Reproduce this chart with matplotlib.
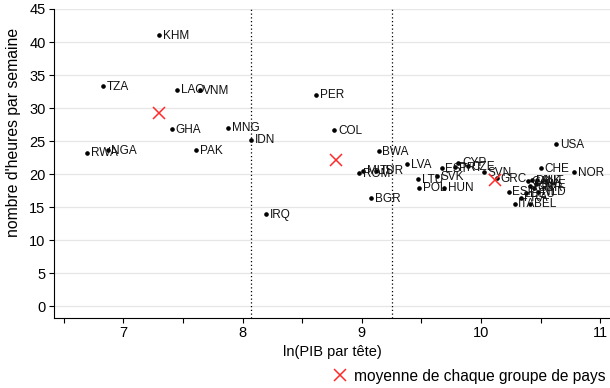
import matplotlib
matplotlib.use("Agg")
import matplotlib.pyplot as plt
from matplotlib.lines import Line2D

plt.rcParams["font.family"] = ["Liberation Sans", "DejaVu Sans"]

# country points: ln(GDP per head) vs weekly hours
countries = ["KHM", "TZA", "LAO", "VNM", "GHA", "MNG", "IDN", "PAK", "RWA", "NGA",
             "PER", "COL", "IRQ", "BWA", "MUS", "TUR", "ROM", "BGR", "LVA", "LTU",
             "POL", "SVK", "HUN", "EST", "CYP", "PRT", "CZE", "SVN", "GRC", "USA",
             "CHE", "NOR", "ESP", "ITA", "BEL", "FRA", "DEU", "NLD", "GBR", "FIN",
             "SWE", "AUT", "DNK", "CAN"]
log_gdp = [7.30, 6.83, 7.45, 7.64, 7.41, 7.88, 8.07, 7.61, 6.70, 6.87,
           8.62, 8.77, 8.20, 9.14, 9.01, 9.12, 8.98, 9.08, 9.38, 9.47,
           9.48, 9.63, 9.69, 9.67, 9.81, 9.78, 9.89, 10.02, 10.13, 10.63,
           10.50, 10.78, 10.23, 10.28, 10.41, 10.33, 10.38, 10.48, 10.44, 10.41,
           10.46, 10.47, 10.43, 10.39]
hours = [41.0, 33.3, 32.8, 32.7, 26.8, 27.0, 25.2, 23.6, 23.2, 23.6,
         32.0, 26.6, 13.9, 23.5, 20.5, 20.5, 20.1, 16.3, 21.5, 19.2,
         17.9, 19.7, 17.9, 20.9, 21.7, 21.0, 21.2, 20.3, 19.4, 24.5,
         20.9, 20.3, 17.3, 15.5, 15.5, 16.4, 17.1, 17.3, 17.9, 18.2,
         18.5, 19.1, 19.1, 18.9]

# group means (red crosses)
mean_gdp = [7.30, 8.78, 10.12]
mean_hours = [29.3, 22.1, 19.1]

# group thresholds
cuts = [8.07, 9.25]

RED = "#ff2a2a"

fig = plt.figure(figsize=(6.10, 3.88), dpi=100)
ax = fig.add_axes([54/610, 1-318/388, 1-54/610, (318-9)/388])

ax.set_xlim(6.42, 11.08)
ax.set_ylim(-1.8, 45)

ax.set_yticks(range(0, 46, 5))
ax.set_xticks([6.5, 7, 7.5, 8, 8.5, 9, 9.5, 10, 10.5, 11])
ax.set_xticklabels(["", "7", "", "8", "", "9", "", "10", "", "11"])
ax.tick_params(direction="out", length=3.6, width=0.8, labelsize=10.5, pad=2)
ax.tick_params(axis="y", pad=2.5)

ax.grid(axis="y", color="#e6e6e6", linewidth=0.9)
ax.set_axisbelow(True)
for s in ["top", "right"]:
    ax.spines[s].set_visible(False)
for s in ["left", "bottom"]:
    ax.spines[s].set_linewidth(0.8)

for c in cuts:
    ax.axvline(c, color="black", linestyle=(0, (1, 2)), linewidth=0.9, zorder=1)

ax.plot(log_gdp, hours, "o", color="black", markersize=2.3, linestyle="none", zorder=3)
for name, x, y in zip(countries, log_gdp, hours):
    ax.annotate(name, (x, y), xytext=(2.6, -0.4), textcoords="offset points",
                va="center", ha="left", fontsize=8.5, color="#111111", zorder=4)

ax.plot(mean_gdp, mean_hours, "x", color=RED, markersize=8, markeredgewidth=1.1,
        linestyle="none", zorder=5)

ax.set_xlabel("ln(PIB par tête)", fontsize=10.5, labelpad=4)
fig.text(14/610, 1-132/388, "nombre d'heures par semaine", rotation=90,
         fontsize=11.3, va="center", ha="center")

handle = Line2D([], [], marker="x", color=RED, markersize=8, markeredgewidth=1.1,
                linestyle="none")
fig.legend(handles=[handle], labels=["moyenne de chaque groupe de pays"],
           loc="center right", bbox_to_anchor=(1.003, 1-376/388), frameon=False,
           fontsize=11.2, handletextpad=0.3, borderaxespad=0, handlelength=1.2)

fig.savefig("out.png", dpi=100)
